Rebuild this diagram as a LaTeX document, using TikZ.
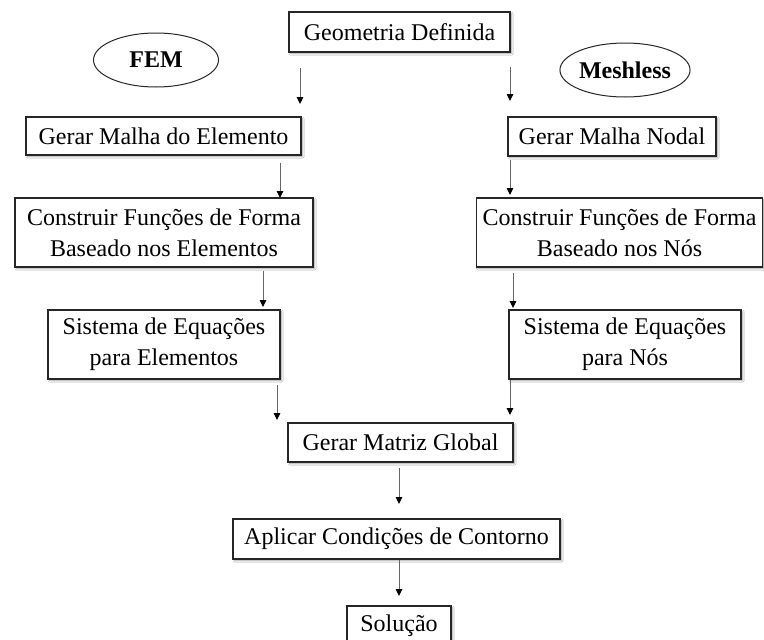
\documentclass[tikz,border=0pt]{standalone}
\usepackage{fontspec}
\setmainfont{Liberation Serif}
\usetikzlibrary{shapes.geometric,shadows.blur,arrows.meta}

\tikzset{
  stepbox/.style={draw=black!85, line width=1.4pt, fill=white, inner sep=0pt,
    align=center, font=\fontsize{24}{31}\selectfont,
    blur shadow={shadow xshift=1.6pt, shadow yshift=-1.6pt, shadow blur radius=1.6pt, shadow opacity=40}},
  method/.style={draw=black!85, line width=1pt, ellipse, inner sep=0pt,
    font=\fontsize{24}{30}\selectfont\bfseries},
  flow/.style={draw=black!60, line width=0.9pt,
    -{Triangle[length=7pt,width=6.5pt,fill=black,color=black]}}
}

\begin{document}
\begin{tikzpicture}[x=1pt,y=-1pt]
\clip (0,0) rectangle (764,640);
\fill[white] (0,0) rectangle (764,640);

% process boxes (centre, width, height)
\node[stepbox, minimum width=221pt, minimum height=40pt] (geo) at (399.5,32) {Geometria Definida};
\node[stepbox, minimum width=275pt, minimum height=38pt] (gme) at (163.5,136) {Gerar Malha do Elemento};
\node[stepbox, minimum width=208pt, minimum height=39pt] (gmn) at (612,136.5) {Gerar Malha Nodal};
\node[stepbox, minimum width=298pt, minimum height=69pt] (cfe) at (164,232.5) {Construir Funções de Forma\\Baseado nos Elementos};
\node[stepbox, minimum width=286pt, minimum height=69pt] (cfn) at (619.5,232.5) {Construir Funções de Forma\\Baseado nos Nós};
\node[stepbox, minimum width=232pt, minimum height=69pt] (see) at (164,344.5) {Sistema de Equações\\para Elementos};
\node[stepbox, minimum width=232pt, minimum height=69pt] (sen) at (625,344.5) {Sistema de Equações\\para Nós};
\node[stepbox, minimum width=225pt, minimum height=39pt] (gmg) at (400.5,442.5) {Gerar Matriz Global};
\node[stepbox, minimum width=327pt, minimum height=40pt] (apl) at (396.5,539) {Aplicar Condições de Contorno};
\node[stepbox, minimum width=104pt, minimum height=40pt] (sol) at (399,626) {Solução};

% method labels
\node[method, minimum width=125pt, minimum height=54pt] (fem) at (156,60) {FEM};
\node[method, minimum width=124pt, minimum height=54pt] (mls) at (625,70) {Meshless};

% arrow end points
\coordinate (a1s) at (300,68);  \coordinate (a1e) at (300,104);
\coordinate (a2s) at (510,67);  \coordinate (a2e) at (510,101);
\coordinate (a3s) at (280,163); \coordinate (a3e) at (280,198);
\coordinate (a4s) at (510,160); \coordinate (a4e) at (510,195);
\coordinate (a5s) at (263,271); \coordinate (a5e) at (263,307);
\coordinate (a6s) at (513,273); \coordinate (a6e) at (513,308);
\coordinate (a7s) at (277,385); \coordinate (a7e) at (277,420);
\coordinate (a8s) at (510,380); \coordinate (a8e) at (510,415);
\coordinate (a9s) at (399,468); \coordinate (a9e) at (399,504);
\coordinate (a10s) at (399,560); \coordinate (a10e) at (399,596);

\foreach \i in {1,...,10} {
  \draw[flow] (a\i s) -- (a\i e);
}
\end{tikzpicture}
\end{document}
